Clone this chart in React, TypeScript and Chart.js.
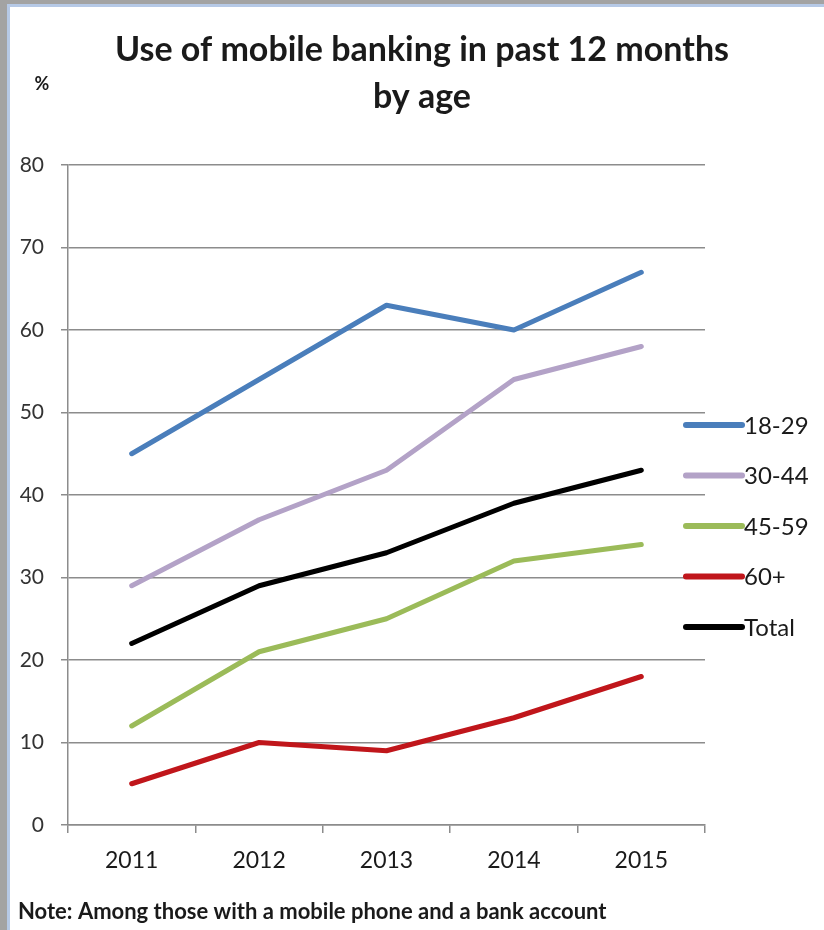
import React, { useEffect, useRef } from "react";
import { Chart, registerables } from "chart.js";

Chart.register(...registerables);

const years = ["2011", "2012", "2013", "2014", "2015"];
const age18to29 = [45, 54, 63, 60, 67];
const age30to44 = [29, 37, 43, 54, 58];
const age45to59 = [12, 21, 25, 32, 34];
const age60plus = [5, 10, 9, 13, 18];
const total = [22, 29, 33, 39, 43];

const seriesLabels = ["18-29", "30-44", "45-59", "60+", "Total"];
const seriesColors = ["#4a7ebb", "#b3a2c7", "#9bbb59", "#c0161b", "#000000"];
const titleLines = ["Use of mobile banking in past 12 months", "by age"];
const yUnit = "%";
const note = "Note: Among those with a mobile phone and a bank account";

const FONT = "Lato, 'Open Sans', sans-serif";

const decorPlugin = {
  id: "decor",
  afterDraw(chart: any) {
    const ctx = chart.ctx as CanvasRenderingContext2D;
    const area = chart.chartArea;
    ctx.save();
    // title
    ctx.fillStyle = "#1a1a1a";
    ctx.textAlign = "center";
    ctx.textBaseline = "middle";
    ctx.font = `bold 34px ${FONT}`;
    ctx.fillText(titleLines[0], 422, 50);
    ctx.fillText(titleLines[1], 422, 97);
    // unit
    ctx.font = `bold 18px ${FONT}`;
    ctx.fillText(yUnit, 42, 84);
    // note
    ctx.textAlign = "left";
    ctx.font = `bold 22px ${FONT}`;
    ctx.fillText(note, 18, 912);
    // legend
    const items = chart.data.datasets;
    const startY = 425;
    const gap = 50.5;
    items.forEach((ds: any, i: number) => {
      const y = startY + i * gap;
      ctx.strokeStyle = ds.borderColor;
      ctx.lineWidth = 6;
      ctx.lineCap = "round";
      ctx.beginPath();
      ctx.moveTo(area.right - 19, y);
      ctx.lineTo(area.right + 37, y);
      ctx.stroke();
      ctx.fillStyle = "#1a1a1a";
      ctx.font = `24px ${FONT}`;
      ctx.textAlign = "left";
      ctx.fillText(ds.label, area.right + 39, y + 1);
    });
    ctx.restore();
  },
};

export default function App() {
  const ref = useRef<HTMLCanvasElement>(null);
  useEffect(() => {
    if (!ref.current) return;
    const seriesData = [age18to29, age30to44, age45to59, age60plus, total];
    const chart = new Chart(ref.current, {
      type: "line",
      data: {
        labels: years,
        datasets: seriesData.map((d, i) => ({
          label: seriesLabels[i],
          data: d,
          borderColor: seriesColors[i],
          backgroundColor: seriesColors[i],
          borderWidth: 5,
          pointRadius: 0,
          tension: 0,
          borderJoinStyle: "round" as const,
          borderCapStyle: "round" as const,
        })),
      },
      options: {
        responsive: false,
        animation: false,
        devicePixelRatio: 1,
        layout: { padding: { left: 0, right: 119, top: 165, bottom: 45 } },
        plugins: {
          legend: { display: false },
          title: { display: false },
          tooltip: { enabled: false },
        },
        scales: {
          x: {
            offset: true,
            grid: {
              offset: true,
              drawOnChartArea: false,
              drawTicks: true,
              tickLength: 8,
              color: "#8c8c8c",
              lineWidth: 1.5,
            },
            border: { display: true, color: "#8c8c8c", width: 1.5 },
            ticks: {
              color: "#1a1a1a",
              font: { family: FONT, size: 23 },
              padding: 14,
              maxRotation: 0,
            },
            afterFit(scale: any) {
              scale.height = 60;
            },
          },
          y: {
            min: 0,
            max: 80,
            ticks: {
              stepSize: 10,
              color: "#333333",
              font: { family: FONT, size: 21 },
              padding: 17,
            },
            grid: {
              color: "#8c8c8c",
              lineWidth: 1.5,
              tickLength: 7,
            },
            border: { display: true, color: "#8c8c8c", width: 1.5 },
            afterFit(scale: any) {
              scale.width = 68;
            },
          },
        },
      },
      plugins: [decorPlugin],
    });
    return () => chart.destroy();
  }, []);

  return (
    <div
      style={{
        position: "absolute",
        left: 0,
        top: 0,
        width: 824,
        height: 930,
        background: "#a3a3a3",
        overflow: "hidden",
      }}
    >
      <div
        style={{
          position: "absolute",
          left: 7,
          top: 4,
          right: 0,
          bottom: 0,
          background: "#ffffff",
          borderLeft: "3px solid #b6c9e6",
          borderTop: "3px solid #b6c9e6",
        }}
      />
      <canvas
        ref={ref}
        width={824}
        height={930}
        style={{ position: "absolute", left: 0, top: 0 }}
      />
    </div>
  );
}
